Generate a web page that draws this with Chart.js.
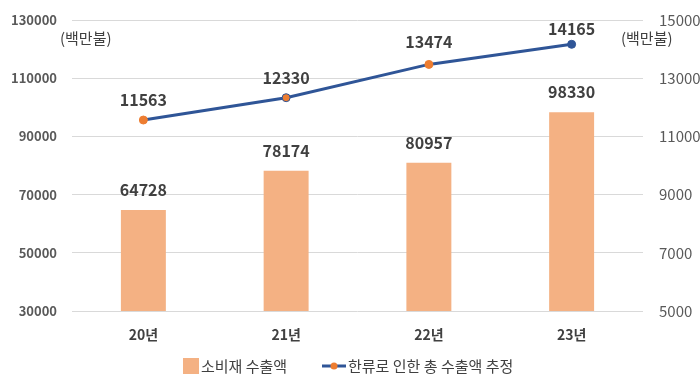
<!DOCTYPE html>
<html><head><meta charset="utf-8">
<script src="https://cdn.jsdelivr.net/npm/chart.js@4"></script>
<style>html,body{margin:0;padding:0;background:#fff}#wrap{width:700px;height:380px}</style>
</head><body><div id="wrap"><canvas id="c" width="700" height="380"></canvas></div>
<script>
const categories = ['20년', '21년', '22년', '23년'];
const consumerExports = [64728, 78174, 80957, 98330];
const hallyuExports = [11563, 12330, 13474, 14165];
const leftTicks = [30000, 50000, 70000, 90000, 110000, 130000];
const rightTicks = [5000, 7000, 9000, 11000, 13000, 15000];
const seriesNames = ['소비재 수출액', '한류로 인한 총 수출액 추정'];
const unitLabel = '(백만불)';

const FONT = "'Noto Sans CJK KR', 'Noto Sans', sans-serif";
const BAR = '#F4B183', LINE = '#2F5597', PT = '#ED7D31';

const labelPlugin = {
  id: 'labels',
  afterDatasetsDraw(chart) {
    const ctx = chart.ctx;
    ctx.save();
    ctx.font = 'bold 16px ' + FONT;
    ctx.fillStyle = '#404040';
    ctx.textAlign = 'center';
    ctx.textBaseline = 'middle';
    chart.getDatasetMeta(1).data.forEach((el, i) => {
      ctx.fillText(String(consumerExports[i]), el.x, el.y - 20);
    });
    const offs = [20, 20, 22, 15];
    chart.getDatasetMeta(0).data.forEach((el, i) => {
      ctx.fillText(String(hallyuExports[i]), el.x, el.y - offs[i]);
    });
    ctx.font = '15px ' + FONT;
    ctx.fillStyle = '#404040';
    ctx.textAlign = 'left';
    const ca = chart.chartArea;
    ctx.fillText(unitLabel, ca.left - 12, ca.top + 18);
    ctx.fillText(unitLabel, ca.right - 22, ca.top + 18);
    const ly = 366;
    ctx.fillStyle = BAR;
    ctx.fillRect(183, ly - 8, 16, 16);
    ctx.fillStyle = '#404040';
    ctx.fillText(seriesNames[0], 201, ly);
    ctx.strokeStyle = LINE; ctx.lineWidth = 3;
    ctx.beginPath(); ctx.moveTo(322, ly); ctx.lineTo(346, ly); ctx.stroke();
    ctx.fillStyle = PT;
    ctx.beginPath(); ctx.arc(334, ly, 3.5, 0, Math.PI * 2); ctx.fill();
    ctx.fillStyle = '#404040';
    ctx.fillText(seriesNames[1], 348, ly);
    ctx.restore();
  }
};

new Chart(document.getElementById('c'), {
  data: {
    labels: categories,
    datasets: [
      { type: 'line', label: seriesNames[1], data: hallyuExports, yAxisID: 'y2',
        borderColor: LINE, borderWidth: 3,
        pointBackgroundColor: [PT, PT, PT, LINE], pointBorderColor: [PT, LINE, PT, LINE],
        pointRadius: 4, pointBorderWidth: 1, tension: 0, order: 0 },
      { type: 'bar', label: seriesNames[0], data: consumerExports, yAxisID: 'y',
        backgroundColor: BAR, categoryPercentage: 1, barPercentage: 0.315, order: 1 }
    ]
  },
  options: {
    responsive: false, animation: false,
    layout: { padding: { top: 20, bottom: 27, left: 0, right: 0 } },
    plugins: { legend: { display: false }, tooltip: { enabled: false } },
    scales: {
      x: {
        grid: { display: false, drawTicks: false }, border: { display: false },
        ticks: { padding: 15, color: '#404040', font: { family: FONT, size: 14, weight: 'bold' } },
        afterFit(s) { s.height = 42; s.paddingLeft = 0; s.paddingRight = 0; }
      },
      y: {
        position: 'left', min: 30000, max: 130000,
        afterBuildTicks(s) { s.ticks = leftTicks.map(v => ({ value: v })); },
        grid: { color: '#D9D9D9', drawTicks: false, lineWidth: 1 }, border: { display: false },
        ticks: { padding: 15, color: '#595959', font: { family: FONT, size: 13, weight: 'bold' },
          callback: v => String(v) },
        afterFit(s) { s.width = 72; s.paddingTop = 0; s.paddingBottom = 0; }
      },
      y2: {
        position: 'right', min: 5000, max: 15000,
        afterBuildTicks(s) { s.ticks = rightTicks.map(v => ({ value: v })); },
        grid: { display: false, drawTicks: false }, border: { display: false },
        ticks: { padding: 16, color: '#595959', font: { family: FONT, size: 15 },
          callback: v => String(v) },
        afterFit(s) { s.width = 57; s.paddingTop = 0; s.paddingBottom = 0; }
      }
    }
  },
  plugins: [labelPlugin]
});
</script></body></html>
